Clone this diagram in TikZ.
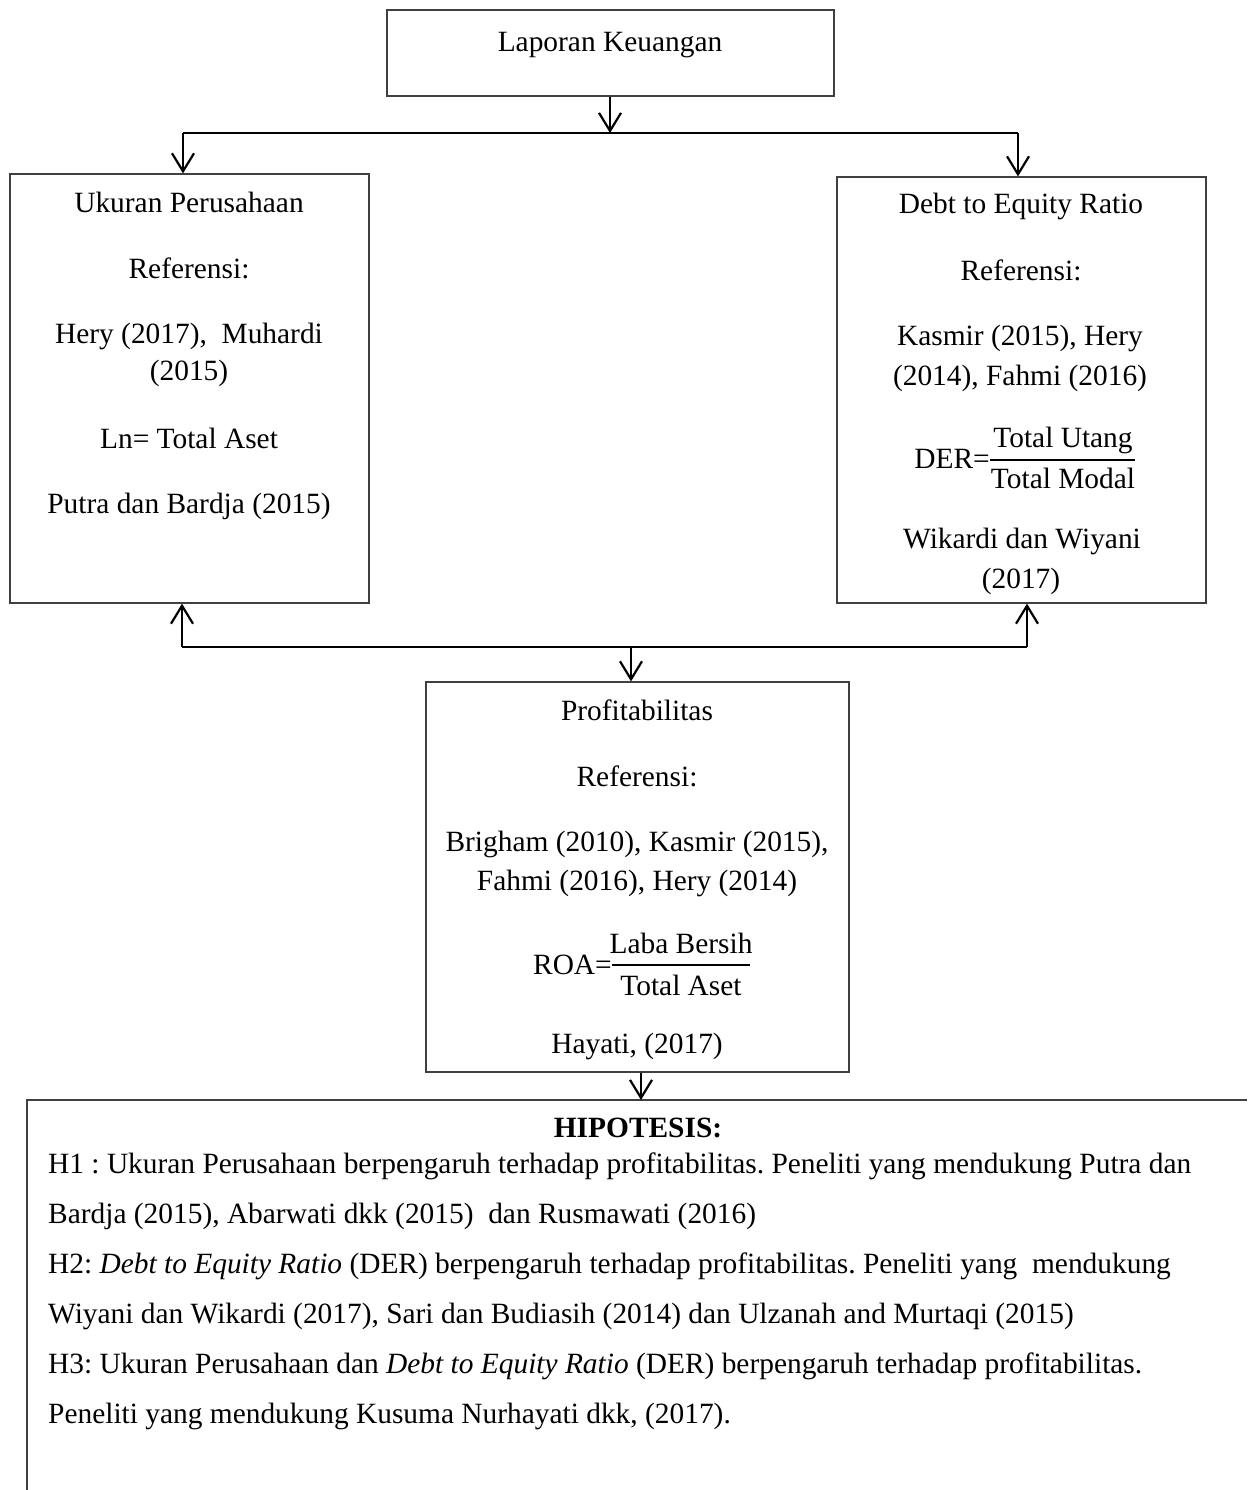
\documentclass[tikz,border=0pt]{standalone}
\usepackage{fontspec}
\setmainfont{Liberation Serif}
\usetikzlibrary{arrows.meta}
\frenchspacing
\begin{document}
\begin{tikzpicture}[x=1pt,y=-1pt,
  box/.style={draw=black!75, line width=1.2pt, inner sep=0pt},
  wire/.style={line width=2.2pt, black},
  conn/.style={wire, -{Straight Barb[length=18pt,width=22pt]}},
  txt/.style={inner sep=0pt, anchor=base, font=\fontsize{29.4}{35}\selectfont},
  ltxt/.style={txt, anchor=base west},
  bar/.style={line width=1.5pt}]
\useasboundingbox (0,0) rectangle (1247,1490);
% boxes
\node[box, minimum width=447pt, minimum height=86pt] (lap) at (610.5,53) {};
\node[box, minimum width=359pt, minimum height=429pt] (uk) at (189.5,388.5) {};
\node[box, minimum width=369pt, minimum height=426pt] (der) at (1021.5,390) {};
\node[box, minimum width=423pt, minimum height=390pt] (prof) at (637.5,877) {};
\coordinate (hl) at (27,1490);
\coordinate (hc) at (27,1100);
\coordinate (hr) at (1247,1100);
\draw[black!75, line width=1.2pt] (hr) -- (hc) -- (hl);
% connectors top
\coordinate (j1) at (610,133);
\coordinate (jl) at (183,133);
\coordinate (jr) at (1018,133);
\draw[conn] (j1 |- lap.south) -- (j1);
\draw[wire] (jl) -- (jr);
\draw[conn] (jl) -- (jl |- uk.north);
\draw[conn] (jr) -- (jr |- der.north);
% connectors bottom
\coordinate (kl) at (182,647);
\coordinate (kr) at (1027,647);
\coordinate (km) at (631,647);
\draw[wire] (kl) -- (kr);
\draw[conn] (kl) -- (kl |- uk.south);
\draw[conn] (kr) -- (kr |- der.south);
\draw[conn] (km) -- (km |- prof.north);
\coordinate (hm) at (641,1100);
\draw[conn] (hm |- prof.south) -- (hm);
% texts: Laporan
\node[txt] (t0) at (610,52) {Laporan Keuangan};
% Ukuran
\node[txt] (u1) at (189,212) {Ukuran Perusahaan};
\node[txt] (u2) at (189,278) {Referensi:};
\node[txt] (u3) at (189,343) {Hery (2017),\ \ Muhardi};
\node[txt] (u4) at (189,380) {(2015)};
\node[txt] (u5) at (189,448) {Ln= Total Aset};
\node[txt] (u6) at (189,513) {Putra dan Bardja (2015)};
% DER
\node[txt] (d1) at (1021,214) {Debt to Equity Ratio};
\node[txt] (d2) at (1021,280) {Referensi:};
\node[txt] (d3) at (1020,345) {Kasmir (2015), Hery};
\node[txt] (d4) at (1020,385) {(2014), Fahmi (2016)};
\node[txt, anchor=base east] (d5) at (990,468) {DER=};
\node[txt] (d6) at (1063,447) {Total Utang};
\node[txt] (d7) at (1063,488) {Total Modal};
\coordinate (db1) at (990,460);
\coordinate (db2) at (1135,460);
\draw[bar] (db1) -- (db2);
\node[txt] (d8) at (1022,548) {Wikardi dan Wiyani};
\node[txt] (d9) at (1021,588) {(2017)};
% Profitabilitas
\node[txt] (p1) at (637,720) {Profitabilitas};
\node[txt] (p2) at (637,786) {Referensi:};
\node[txt] (p3) at (637,851) {Brigham (2010), Kasmir (2015),};
\node[txt] (p4) at (637,890) {Fahmi (2016), Hery (2014)};
\node[txt, anchor=base east] (p5) at (612,974) {ROA=};
\node[txt] (p6) at (681,953) {Laba Bersih};
\node[txt] (p7) at (681,995) {Total Aset};
\coordinate (pb1) at (612,965);
\coordinate (pb2) at (750,965);
\draw[bar] (pb1) -- (pb2);
\node[txt] (p8) at (637,1053) {Hayati, (2017)};
% Hipotesis
\node[txt, font=\fontsize{29.4}{35}\selectfont\bfseries] (h0) at (638,1137) {HIPOTESIS:};
\node[ltxt] (h1) at (48,1173) {H1 : Ukuran Perusahaan berpengaruh terhadap profitabilitas. Peneliti yang mendukung Putra dan};
\node[ltxt] (h2) at (48,1223) {Bardja (2015), Abarwati dkk (2015)\ \ dan Rusmawati (2016)};
\node[ltxt] (h3) at (48,1273) {H2: \textit{Debt to Equity Ratio} (DER) berpengaruh terhadap profitabilitas. Peneliti yang\ \ mendukung};
\node[ltxt] (h4) at (48,1323) {Wiyani dan Wikardi (2017), Sari dan Budiasih (2014) dan Ulzanah and Murtaqi (2015)};
\node[ltxt] (h5) at (48,1373) {H3: Ukuran Perusahaan dan \textit{Debt to Equity Ratio} (DER) berpengaruh terhadap profitabilitas.};
\node[ltxt] (h6) at (48,1423) {Peneliti yang mendukung Kusuma Nurhayati dkk, (2017).};
\end{tikzpicture}
\end{document}
